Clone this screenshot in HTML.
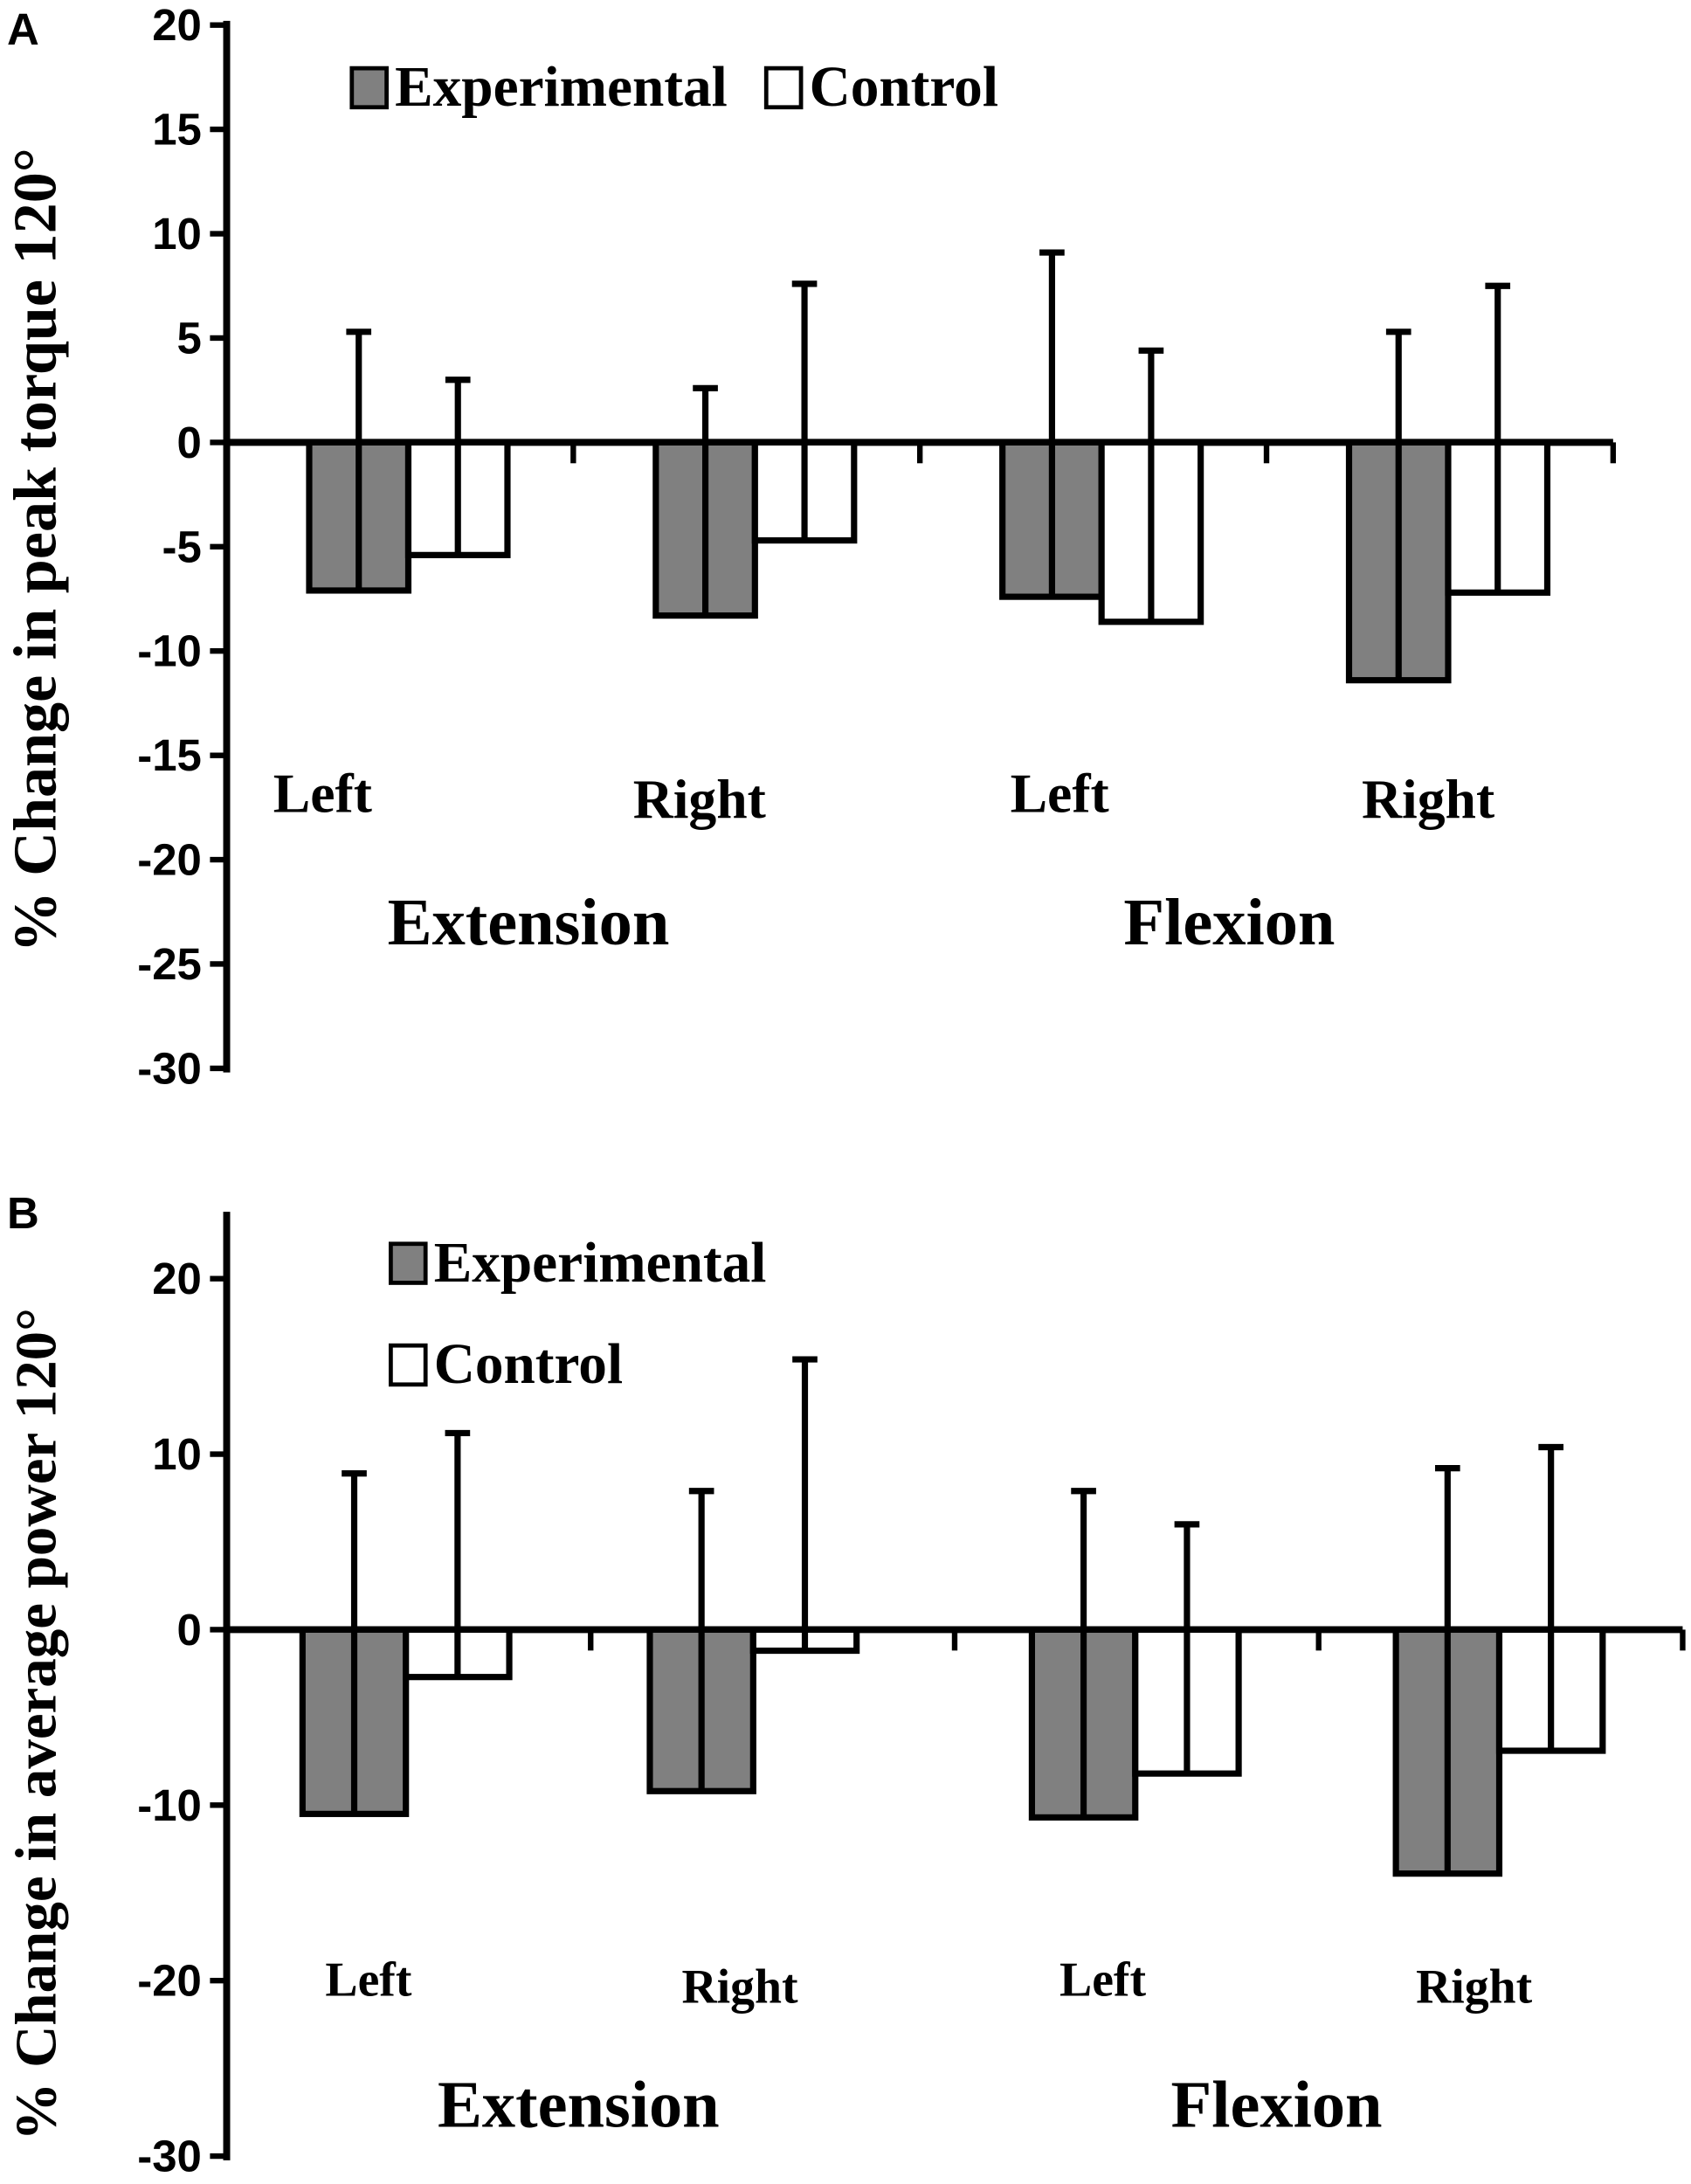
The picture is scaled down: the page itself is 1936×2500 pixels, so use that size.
<!DOCTYPE html>
<html><head><meta charset="utf-8"><style>
html,body{margin:0;padding:0;background:#fff;}
svg{display:block;}
.t{font-family:"Liberation Sans",sans-serif;font-weight:bold;font-size:32px;}
.s{font-family:"Liberation Serif",serif;font-weight:bold;}
</style></head><body>
<svg id="chart" width="1936" height="2500" viewBox="0 0 1216 1568" preserveAspectRatio="none" xmlns="http://www.w3.org/2000/svg">
<rect width="1216" height="1568" fill="#fff"/>
<g id="pa"></g>
<g id="pb"></g>
</svg>
<script>
const catsA = ["Left","Right","Left","Right"];
const expA = [-7.1,-8.3,-7.4,-11.4];
const ctlA = [-5.4,-4.7,-8.6,-7.2];
const expErrA = [5.3,2.6,9.1,5.3];
const ctlErrA = [3.0,7.6,4.4,7.5];
const ticksA = [20,15,10,5,0,-5,-10,-15,-20,-25,-30];

const catsB = ["Left","Right","Left","Right"];
const expB = [-10.5,-9.2,-10.7,-13.9];
const ctlB = [-2.7,-1.2,-8.2,-6.9];
const expErrB = [8.9,7.9,7.9,9.2];
const ctlErrB = [11.2,15.4,6.0,10.4];
const ticksB = [20,10,0,-10,-20,-30];

const NS="http://www.w3.org/2000/svg";
function mk(p,tag,at,txt){const e=document.createElementNS(NS,tag);for(const k in at)e.setAttribute(k,at[k]);if(txt!=null)e.textContent=txt;p.appendChild(e);return e;}

function panel(g,cfg){
  const y=v=>cfg.y0+(cfg.max-v)*(cfg.y1-cfg.y0)/(cfg.max-cfg.min);
  const x0=163,xEnd=cfg.xEnd,gw=(xEnd-x0)/4;
  let e=mk(g,'text',{x:5,y:cfg.letterY,class:'t','font-size':30},cfg.letter);
  
  
  e=mk(g,'line',{x1:x0,y1:cfg.axTop,x2:x0,y2:y(cfg.min)+3,stroke:'#000','stroke-width':5});
  
  
  cfg.ticks.forEach(t=>{
    let l=mk(g,'line',{x1:x0-12,y1:y(t),x2:x0,y2:y(t),stroke:'#000','stroke-width':4});
    
    
    let tx=mk(g,'text',{x:x0-18,y:y(t)+11,class:'t','text-anchor':'end'},String(t));
    
    
  });
  e=mk(g,'line',{x1:x0,y1:y(0),x2:xEnd,y2:y(0),stroke:'#000','stroke-width':5});
  
  
  for(let i=1;i<=4;i++){
    let l=mk(g,'line',{x1:x0+gw*i,y1:y(0),x2:x0+gw*i,y2:y(0)+15,stroke:'#000','stroke-width':4});
    
    
  }
  const bw=gw*cfg.bwF;
  cfg.cats.forEach((c,i)=>{
    const gc=x0+gw*i+gw/2+cfg.shift[i];
    [[cfg.exp[i],cfg.expErr[i],'#808080',gc-bw,'bar-experimental'],[cfg.ctl[i],cfg.ctlErr[i],'#fff',gc,'bar-control']].forEach(([v,er,f,bx,nm])=>{
      const yt=Math.min(y(0),y(v)),h=Math.abs(y(v)-y(0));
      let r=mk(g,'rect',{x:bx,y:yt,width:bw,height:h,fill:f,stroke:'#000','stroke-width':4.5});
      
      
      const cx=bx+bw/2;
      let l=mk(g,'line',{x1:cx,y1:y(v),x2:cx,y2:y(er),stroke:'#000','stroke-width':4.5});
      
      
      l=mk(g,'line',{x1:cx-9,y1:y(er),x2:cx+9,y2:y(er),stroke:'#000','stroke-width':4.5});
      
      
    });
    let t=mk(g,'text',{x:cfg.catX[i],y:cfg.catY[i],class:'s','font-size':cfg.catFs,'text-anchor':'middle'},c);
    
    
  });
  cfg.groups.forEach((gn,i)=>{
    let t=mk(g,'text',{x:cfg.groupX[i],y:cfg.groupY,class:'s','font-size':cfg.groupFs,'text-anchor':'middle'},gn);
    
    
  });
  let tt=mk(g,'text',{x:0,y:0,class:'s','font-size':cfg.titleFs,'text-anchor':'middle',transform:`translate(40,${cfg.titleY}) rotate(-90)`},cfg.title);
  
  
  cfg.legend.forEach(L=>{
    let r=mk(g,'rect',{x:L.x,y:L.y,width:25,height:28,fill:L.f,stroke:'#000','stroke-width':3});
    
    
    let t=mk(g,'text',{x:L.x+31,y:L.y+27,class:'s','font-size':41},L.t);
    
    
  });
}
panel(document.getElementById('pa'),{letter:'A',letterY:32,y0:18,y1:767,max:20,min:-30,axTop:15,xEnd:1160,shift:[6,6,6,6],bwF:0.286,
  ticks:ticksA,cats:catsA,exp:expA,ctl:ctlA,expErr:expErrA,ctlErr:ctlErrA,
  catX:[232,503,762,1027],catY:[583,587,583,587],catFs:40,groups:['Extension','Flexion'],groupX:[380,884],groupY:678,groupFs:48,
  title:'% Change in peak torque 120°',titleY:395,titleFs:44,
  legend:[{x:253,y:49,f:'#808080',t:'Experimental'},{x:551,y:49,f:'#fff',t:'Control'}]});
panel(document.getElementById('pb'),{letter:'B',letterY:882,y0:918,y1:1548,max:20,min:-30,axTop:870,xEnd:1210,shift:[-2,-14,-1,-1],bwF:0.284,
  ticks:ticksB,cats:catsB,exp:expB,ctl:ctlB,expErr:expErrB,ctlErr:ctlErrB,
  catX:[265,532,793,1060],catY:[1433,1438,1433,1438],catFs:35,groups:['Extension','Flexion'],groupX:[416,918],groupY:1527,groupFs:48,
  title:'% Change in average power 120°',titleY:1238,titleFs:42,
  legend:[{x:281,y:893,f:'#808080',t:'Experimental'},{x:281,y:966,f:'#fff',t:'Control'}]});
</script>
</body></html>
